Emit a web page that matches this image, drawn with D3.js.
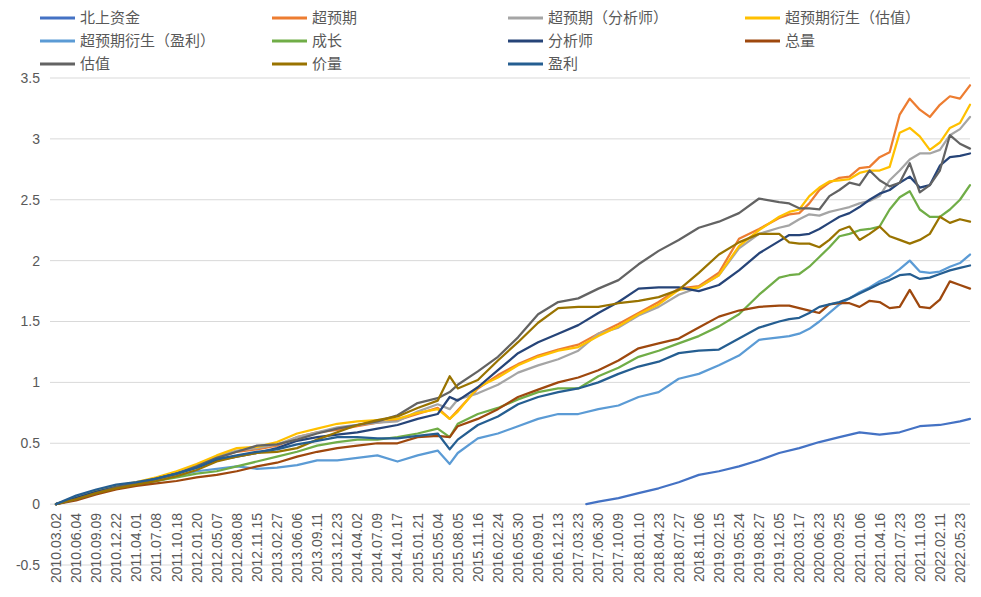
<!DOCTYPE html>
<html><head><meta charset="utf-8">
<script src="https://cdn.jsdelivr.net/npm/d3@7/dist/d3.min.js"></script>
<style>body{margin:0;background:#fff}svg{display:block}</style>
</head><body><svg id="c" width="981" height="597"></svg>
<script>
// category tick labels (one every ~65 trading days)
const tickLabels = ["2010.03.02","2010.06.04","2010.09.09","2010.12.22","2011.04.01","2011.07.08","2011.10.18","2012.01.20","2012.05.07","2012.08.08","2012.11.15","2013.02.27","2013.06.06","2013.09.11","2013.12.23","2014.04.02","2014.07.09","2014.10.17","2015.01.21","2015.05.04","2015.08.05","2015.11.16","2016.02.24","2016.05.30","2016.09.01","2016.12.13","2017.03.23","2017.06.30","2017.10.09","2018.01.10","2018.04.23","2018.07.27","2018.11.06","2019.02.15","2019.05.24","2019.08.27","2019.12.05","2020.03.17","2020.06.23","2020.09.25","2021.01.06","2021.04.16","2021.07.23","2021.11.03","2022.02.11","2022.05.23"];
const yTicks = [-0.5,0,0.5,1,1.5,2,2.5,3,3.5];

// sample positions along the category axis (in tick-label units)
const positions = [0,1,2,3,4,5,6,7,8,9,10,11,12,13,14,15,16,17,18,19,19.6,20,21,22,23,24,25,26,27,28,29,30,31,32,33,34,35,36,
  36.5,37,37.5,38,38.5,39,39.5,40,40.5,41,41.5,42,42.5,43,43.5,44,44.5,45,45.5];
const northPositions = [26.4,27,28,29,30,31,32,33,34,35,36,37,38,39,40,41,42,43,44,45,45.5];

const seriesNames = ["北上资金","超预期","超预期（分析师）","超预期衍生（估值）","超预期衍生（盈利）","成长","分析师","总量","估值","价量","盈利"];
const seriesColors = ["#4472C4","#ED7D31","#A5A5A5","#FFC000","#5B9BD5","#70AD47","#264478","#9E480E","#636363","#997300","#255E91"];

const north = [0,0.02,0.05,0.09,0.13,0.18,0.24,0.27,0.31,0.36,0.42,0.46,0.51,0.55,0.59,0.57,0.59,0.64,0.65,0.68,0.70];
const chaoYuQi = [0,0.05,0.10,0.14,0.17,0.21,0.25,0.31,0.38,0.43,0.45,0.48,0.55,0.59,0.61,0.64,0.67,0.69,0.74,0.79,0.70,0.77,0.95,1.06,1.15,1.22,1.27,1.31,1.40,1.48,1.57,1.66,1.77,1.79,1.90,2.18,2.26,2.35,
  2.38,2.39,2.47,2.58,2.64,2.68,2.69,2.76,2.77,2.85,2.89,3.20,3.33,3.24,3.18,3.28,3.35,3.33,3.44];
const chaoYuQiAnalyst = [0,0.05,0.10,0.14,0.17,0.21,0.26,0.32,0.39,0.44,0.46,0.49,0.55,0.59,0.63,0.65,0.67,0.68,0.76,0.82,0.78,0.86,0.91,0.98,1.08,1.14,1.19,1.26,1.40,1.45,1.55,1.62,1.72,1.78,1.88,2.10,2.22,2.27,
  2.29,2.34,2.38,2.37,2.40,2.42,2.44,2.47,2.49,2.53,2.66,2.74,2.83,2.88,2.88,2.91,3.03,3.08,3.18];
const derivValuation = [0,0.05,0.11,0.15,0.18,0.22,0.27,0.33,0.40,0.46,0.47,0.51,0.58,0.62,0.66,0.68,0.69,0.70,0.75,0.78,0.70,0.76,0.96,1.04,1.14,1.21,1.26,1.29,1.38,1.46,1.56,1.64,1.76,1.78,1.88,2.12,2.25,2.36,
  2.40,2.42,2.53,2.60,2.65,2.66,2.67,2.72,2.74,2.74,2.77,3.05,3.09,3.02,2.91,2.97,3.09,3.13,3.28];
const derivProfit = [0,0.05,0.10,0.14,0.16,0.19,0.23,0.27,0.29,0.31,0.29,0.30,0.32,0.36,0.36,0.38,0.40,0.35,0.40,0.44,0.33,0.42,0.54,0.58,0.64,0.70,0.74,0.74,0.78,0.81,0.88,0.92,1.03,1.07,1.14,1.22,1.35,1.37,
  1.38,1.40,1.44,1.50,1.57,1.64,1.69,1.74,1.78,1.83,1.87,1.93,2.00,1.91,1.90,1.91,1.95,1.98,2.05];
const growth = [0,0.05,0.10,0.14,0.16,0.19,0.22,0.25,0.27,0.31,0.35,0.39,0.43,0.48,0.51,0.53,0.53,0.55,0.58,0.62,0.55,0.66,0.74,0.79,0.86,0.92,0.95,0.95,1.05,1.12,1.21,1.26,1.32,1.38,1.46,1.56,1.72,1.86,
  1.88,1.89,1.95,2.03,2.11,2.20,2.22,2.25,2.26,2.28,2.42,2.52,2.57,2.42,2.36,2.36,2.42,2.50,2.62];
const analyst = [0,0.05,0.10,0.14,0.17,0.21,0.25,0.30,0.36,0.39,0.42,0.46,0.52,0.55,0.57,0.59,0.62,0.65,0.70,0.74,0.88,0.85,0.96,1.10,1.24,1.33,1.40,1.47,1.57,1.66,1.77,1.78,1.78,1.75,1.80,1.92,2.06,2.16,
  2.21,2.21,2.22,2.26,2.31,2.36,2.39,2.44,2.50,2.55,2.58,2.64,2.69,2.60,2.62,2.78,2.85,2.86,2.88];
const total = [0,0.03,0.08,0.12,0.15,0.17,0.19,0.22,0.24,0.27,0.31,0.34,0.39,0.43,0.46,0.48,0.50,0.50,0.55,0.56,0.55,0.64,0.70,0.78,0.88,0.94,1.00,1.04,1.10,1.18,1.28,1.32,1.36,1.45,1.54,1.59,1.62,1.63,
  1.63,1.61,1.59,1.57,1.64,1.65,1.65,1.62,1.67,1.66,1.61,1.62,1.76,1.62,1.61,1.68,1.83,1.80,1.77];
const valuation = [0,0.04,0.09,0.14,0.17,0.21,0.25,0.31,0.38,0.43,0.48,0.49,0.53,0.58,0.62,0.65,0.68,0.73,0.83,0.87,0.92,0.98,1.09,1.21,1.37,1.56,1.66,1.69,1.77,1.84,1.97,2.08,2.17,2.27,2.32,2.39,2.51,2.48,
  2.47,2.43,2.43,2.42,2.53,2.58,2.64,2.62,2.74,2.66,2.61,2.64,2.80,2.56,2.62,2.74,3.03,2.96,2.92];
const priceVolume = [0,0.04,0.09,0.13,0.16,0.19,0.23,0.28,0.35,0.39,0.42,0.43,0.46,0.53,0.59,0.65,0.69,0.72,0.79,0.85,1.05,0.95,1.02,1.18,1.33,1.49,1.61,1.62,1.62,1.65,1.67,1.70,1.76,1.90,2.05,2.15,2.22,2.22,
  2.15,2.14,2.14,2.11,2.17,2.25,2.28,2.17,2.22,2.28,2.20,2.17,2.14,2.17,2.22,2.36,2.31,2.34,2.32];
const profit = [0,0.07,0.12,0.16,0.18,0.21,0.25,0.30,0.37,0.40,0.43,0.45,0.49,0.52,0.55,0.55,0.54,0.54,0.56,0.58,0.45,0.53,0.65,0.72,0.82,0.88,0.92,0.95,1.00,1.07,1.13,1.17,1.24,1.26,1.27,1.36,1.45,1.50,
  1.52,1.53,1.57,1.62,1.64,1.66,1.69,1.73,1.77,1.81,1.84,1.88,1.89,1.85,1.86,1.89,1.92,1.94,1.96];

const seriesValues = [north,chaoYuQi,chaoYuQiAnalyst,derivValuation,derivProfit,growth,analyst,total,valuation,priceVolume,profit];
const seriesPositions = [northPositions].concat(Array(10).fill(positions));

const svg = d3.select("#c");
const x = d3.scaleLinear().domain([0,45.5]).range([56,970]);
const y = d3.scaleLinear().domain([-0.5,3.5]).range([565,78]);
const FONT = "'Liberation Sans', Arial, sans-serif";
const CJK = "'Noto Sans CJK SC', 'Noto Sans', sans-serif";

// gridlines
svg.append("g").selectAll("line").data(yTicks).join("line")
  .attr("x1",50).attr("x2",970)
  .attr("y1",d=>y(d)).attr("y2",d=>y(d))
  .attr("stroke","#d9d9d9").attr("stroke-width",1);

// y labels
svg.append("g").selectAll("text").data(yTicks).join("text")
  .attr("x",40).attr("y",d=>y(d)).attr("dy","0.35em")
  .attr("text-anchor","end").attr("font-family",FONT).attr("font-size",14)
  .attr("fill","#595959").text(d=>d);

// x labels (rotated)
svg.append("g").selectAll("text").data(tickLabels).join("text")
  .attr("transform",(d,i)=>`translate(${x(i)+5},513) rotate(-90)`)
  .attr("text-anchor","end").attr("font-family",FONT).attr("font-size",14)
  .attr("fill","#595959").text(d=>d);

// lines
const line = d3.line().x(d=>x(d[0])).y(d=>y(d[1])).curve(d3.curveLinear);
seriesValues.forEach((vals,si)=>{
  const pos = seriesPositions[si];
  const pts = vals.map((v,i)=>[pos[i],v]);
  svg.append("path").datum(pts).attr("d",line)
    .attr("fill","none").attr("stroke",seriesColors[si])
    .attr("stroke-width",2.25).attr("stroke-linejoin","round").attr("stroke-linecap","round");
});

// legend
const colX = [40,272,508,745];
const rowY = [18,41,64];
const lg = svg.append("g").selectAll("g").data(seriesNames).join("g")
  .attr("transform",(d,i)=>`translate(${colX[i%4]},${rowY[Math.floor(i/4)]})`);
lg.append("line").attr("x1",0).attr("x2",35).attr("y1",0).attr("y2",0)
  .attr("stroke",(d,i)=>seriesColors[i]).attr("stroke-width",3);
lg.append("text").attr("x",40).attr("dy","0.36em").attr("font-family",CJK)
  .attr("font-size",15).attr("fill","#595959").text(d=>d);
</script></body></html>
